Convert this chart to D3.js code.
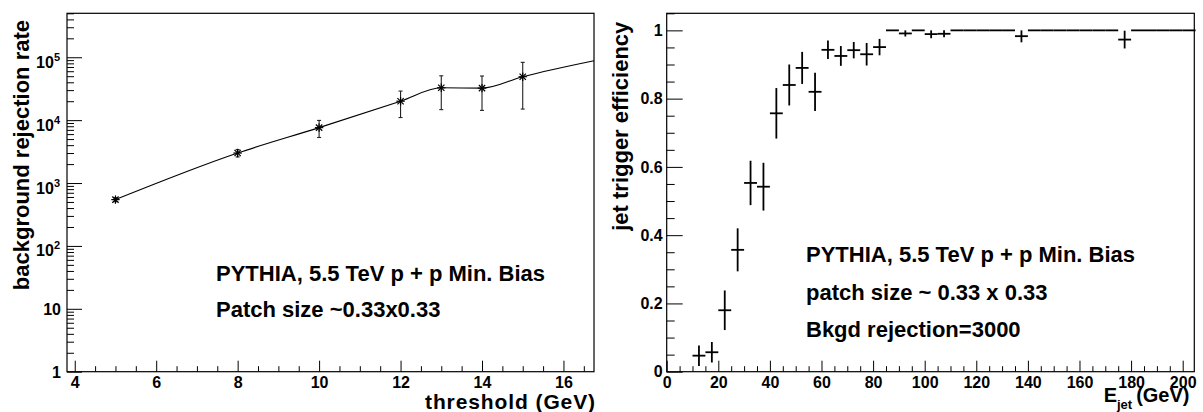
<!DOCTYPE html>
<html>
<head>
<meta charset="utf-8">
<script src="https://cdn.jsdelivr.net/npm/d3@7"></script>
<style>
  html, body { margin: 0; padding: 0; background: #fff; }
  svg { display: block; }
  text { font-family: "Liberation Sans", Arial, Helvetica, sans-serif; font-weight: bold; fill: #000; }
</style>
</head>
<body>
<svg id="chart" width="1203" height="412"></svg>
<script>
// ---------------- Data ----------------
// Left panel: background rejection rate vs threshold
const thresholds = [5, 8, 10, 12, 13, 14, 15];
const rejection = [545, 3000, 7600, 20000, 32700, 32300, 49000];
const rejectionErr = [40, 400, 2300, 9000, 18000, 18000, 34000];
// smooth curve drawn through the points (extends to the frame edge)
const curveX = [5, 8, 10, 12, 13, 14, 15, 16.75];
const curveY = [545, 3000, 7600, 20000, 32700, 32300, 49000, 88000];
const leftXTicks = [4, 6, 8, 10, 12, 14, 16];
const leftYTicks = [1, 10, 100, 1000, 10000, 100000];

// Right panel: jet trigger efficiency vs E_jet (5 GeV bins)
const binCenters = [12.5, 17.5, 22.5, 27.5, 32.5, 37.5, 42.5, 47.5, 52.5, 57.5,
  62.5, 67.5, 72.5, 77.5, 82.5, 87.5, 92.5, 97.5, 102.5, 107.5,
  112.5, 117.5, 122.5, 127.5, 132.5, 137.5, 142.5, 147.5, 152.5, 157.5,
  162.5, 167.5, 172.5, 177.5, 182.5, 187.5, 192.5, 197.5, 202.5];
const efficiency = [0.047, 0.057, 0.18, 0.357, 0.553, 0.542, 0.757, 0.840, 0.890, 0.820,
  0.943, 0.925, 0.942, 0.930, 0.951, 1.0, 0.991, 1.0, 0.989, 0.990,
  1.0, 1.0, 1.0, 1.0, 1.0, 0.983, 1.0, 1.0, 1.0, 1.0,
  1.0, 1.0, 1.0, 0.973, 1.0, 1.0, 1.0, 1.0, 1.0];
const efficiencyErr = [0.03, 0.03, 0.058, 0.063, 0.065, 0.07, 0.074, 0.06, 0.047, 0.056,
  0.027, 0.029, 0.024, 0.033, 0.024, 0, 0.009, 0, 0.012, 0.01,
  0, 0, 0, 0, 0, 0.018, 0, 0, 0, 0,
  0, 0, 0, 0.026, 0, 0, 0, 0, 0];
const binHalfWidth = 2.5;
const rightXTicks = [0, 20, 40, 60, 80, 100, 120, 140, 160, 180, 200];
const rightYTicks = [0, 0.2, 0.4, 0.6, 0.8, 1];

const leftLabels = ["PYTHIA, 5.5 TeV p + p Min. Bias", "Patch size ~0.33x0.33"];
const rightLabels = ["PYTHIA, 5.5 TeV p + p Min. Bias", "patch size ~ 0.33 x 0.33", "Bkgd rejection=3000"];

// ---------------- Layout ----------------
const svg = d3.select("#chart");
svg.append("rect").attr("width", 1203).attr("height", 412).attr("fill", "#fff");

const L = {x0: 67, x1: 594, y0: 13.3, y1: 371.7};
const R = {x0: 666.7, x1: 1194.3, y0: 13.3, y1: 371.7};

const xL = d3.scaleLinear().domain([3.81, 16.75]).range([L.x0, L.x1]);
const yL = d3.scaleLog().domain([1, 5e5]).range([L.y1, L.y0]);
const xR = d3.scaleLinear().domain([0, 204.5]).range([R.x0, R.x1]);
const yR = d3.scaleLinear().domain([0, 1.05]).range([R.y1, R.y0]);

const TICKFONT = 16;

function frame(P) {
  svg.append("rect")
    .attr("x", P.x0).attr("y", P.y0)
    .attr("width", P.x1 - P.x0).attr("height", P.y1 - P.y0)
    .attr("fill", "none").attr("stroke", "#000").attr("stroke-width", 1.2);
}

function styleAxis(g) {
  g.select(".domain").remove();
  g.selectAll("line").attr("stroke", "#000").attr("stroke-width", 1);
  g.selectAll("text").attr("font-size", TICKFONT).attr("font-family", null);
}

// ---------------- Left panel ----------------
frame(L);

// x axis (ticks inward)
const leftXMinor = d3.range(4, 16.76, 0.5).filter(v => !leftXTicks.includes(v));
svg.append("g").attr("transform", `translate(0,${L.y1})`)
  .call(d3.axisBottom(xL).tickValues(leftXMinor).tickFormat("").tickSizeInner(-5.5).tickSizeOuter(0))
  .call(styleAxis);
svg.append("g").attr("transform", `translate(0,${L.y1})`)
  .call(d3.axisBottom(xL).tickValues(leftXTicks).tickFormat(d3.format("d")).tickSizeInner(-11).tickSizeOuter(0).tickPadding(4.6))
  .call(styleAxis);

// y axis log
const leftYMinor = [];
for (let e = 0; e <= 5; e++) for (let m = 2; m <= 9; m++) { const v = m * Math.pow(10, e); if (v <= 5e5) leftYMinor.push(v); }
svg.append("g").attr("transform", `translate(${L.x0},0)`)
  .call(d3.axisLeft(yL).tickValues(leftYMinor).tickFormat("").tickSizeInner(-7).tickSizeOuter(0))
  .call(styleAxis);
svg.append("g").attr("transform", `translate(${L.x0},0)`)
  .call(d3.axisLeft(yL).tickValues(leftYTicks).tickFormat("").tickSizeInner(-15).tickSizeOuter(0))
  .call(styleAxis);

const yLab = svg.append("g");
leftYTicks.forEach(v => {
  const e = Math.round(Math.log10(v));
  const t = yLab.append("text").attr("text-anchor", "end").attr("font-size", TICKFONT);
  if (e < 2) {
    t.attr("x", L.x0 - 6).attr("y", yL(v) + 6).text(e === 0 ? "1" : "10");
  } else {
    t.attr("x", L.x0 - 7).attr("y", yL(v) + 10.5);
    t.append("tspan").text("10");
    t.append("tspan").attr("font-size", 11).attr("dy", -7).text(String(e));
  }
});

// curve
const lineL = d3.line().x((d, i) => xL(curveX[i])).y((d, i) => yL(curveY[i])).curve(d3.curveMonotoneX);
svg.append("path").datum(curveX).attr("d", lineL)
  .attr("fill", "none").attr("stroke", "#000").attr("stroke-width", 1.1);

// error bars with caps
const eb = svg.append("g").attr("stroke", "#222").attr("stroke-width", 1.1);
thresholds.forEach((x, i) => {
  const cx = xL(x);
  const yt = yL(rejection[i] + rejectionErr[i]);
  const yb = yL(rejection[i] - rejectionErr[i]);
  eb.append("line").attr("x1", cx).attr("x2", cx).attr("y1", yt).attr("y2", yb);
  eb.append("line").attr("x1", cx - 2).attr("x2", cx + 2).attr("y1", yt).attr("y2", yt);
  eb.append("line").attr("x1", cx - 2).attr("x2", cx + 2).attr("y1", yb).attr("y2", yb);
});
// asterisk markers
const mk = svg.append("g").attr("stroke", "#000").attr("stroke-width", 1.2);
thresholds.forEach((x, i) => {
  const cx = xL(x), cy = yL(rejection[i]), r = 4.2;
  mk.append("line").attr("x1", cx - r).attr("x2", cx + r).attr("y1", cy).attr("y2", cy);
  mk.append("line").attr("x1", cx).attr("x2", cx).attr("y1", cy - r).attr("y2", cy + r);
  mk.append("line").attr("x1", cx - r * 0.75).attr("x2", cx + r * 0.75).attr("y1", cy - r * 0.75).attr("y2", cy + r * 0.75);
  mk.append("line").attr("x1", cx - r * 0.75).attr("x2", cx + r * 0.75).attr("y1", cy + r * 0.75).attr("y2", cy - r * 0.75);
});

// titles
svg.append("text").attr("text-anchor", "end").attr("font-size", 22)
  .attr("transform", `translate(28.5,20) rotate(-90)`).text("background rejection rate");
svg.append("text").attr("text-anchor", "end").attr("font-size", 21).attr("letter-spacing", 0.9)
  .attr("x", 596).attr("y", 408.5).text("threshold (GeV)");

leftLabels.forEach((s, i) => {
  svg.append("text").attr("font-size", 22).attr("x", 216).attr("y", 280.7 + i * 36.6).text(s);
});

// ---------------- Right panel ----------------
frame(R);

const rightXMinor = d3.range(0, 204.5, 5).filter(v => !rightXTicks.includes(v));
svg.append("g").attr("transform", `translate(0,${R.y1})`)
  .call(d3.axisBottom(xR).tickValues(rightXMinor).tickFormat("").tickSizeInner(-5.5).tickSizeOuter(0))
  .call(styleAxis);
svg.append("g").attr("transform", `translate(0,${R.y1})`)
  .call(d3.axisBottom(xR).tickValues(rightXTicks).tickFormat(d3.format("d")).tickSizeInner(-11).tickSizeOuter(0).tickPadding(4.6))
  .call(styleAxis);

const rightYMinor = d3.range(0, 1.051, 0.05).map(v => +v.toFixed(2)).filter(v => !rightYTicks.includes(v));
svg.append("g").attr("transform", `translate(${R.x0},0)`)
  .call(d3.axisLeft(yR).tickValues(rightYMinor).tickFormat("").tickSizeInner(-8).tickSizeOuter(0))
  .call(styleAxis);
svg.append("g").attr("transform", `translate(${R.x0},0)`)
  .call(d3.axisLeft(yR).tickValues(rightYTicks).tickFormat(d => d === 0 ? "0" : d === 1 ? "1" : d3.format(".1f")(d))
    .tickSizeInner(-16).tickSizeOuter(0).tickPadding(4))
  .call(styleAxis);

// error crosses
const cr = svg.append("g").attr("stroke", "#000").attr("stroke-width", 1.8);
binCenters.forEach((x, i) => {
  const cx = xR(x), cy = yR(efficiency[i]);
  cr.append("line").attr("x1", xR(x - binHalfWidth)).attr("x2", xR(x + binHalfWidth)).attr("y1", cy).attr("y2", cy);
  if (efficiencyErr[i] > 0) {
    cr.append("line").attr("x1", cx).attr("x2", cx)
      .attr("y1", yR(Math.min(efficiency[i] + efficiencyErr[i], 1))).attr("y2", yR(efficiency[i] - efficiencyErr[i]));
  }
});

// titles
svg.append("text").attr("text-anchor", "end").attr("font-size", 22)
  .attr("transform", `translate(627.5,21.7) rotate(-90)`).text("jet trigger efficiency");
const xt = svg.append("text").attr("text-anchor", "end").attr("font-size", 20).attr("x", 1189.5).attr("y", 401.5);
xt.append("tspan").text("E");
xt.append("tspan").attr("font-size", 13).attr("dy", 7.5).text("jet");
xt.append("tspan").attr("dy", -7.5).attr("dx", 4).text("(GeV)");

rightLabels.forEach((s, i) => {
  svg.append("text").attr("font-size", 22).attr("x", 806).attr("y", 262.3 + i * 37.2).text(s);
});
</script>
</body>
</html>
